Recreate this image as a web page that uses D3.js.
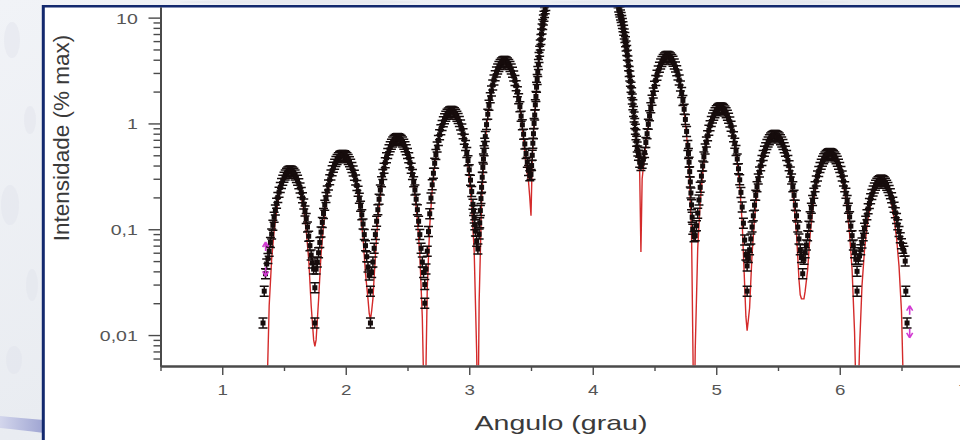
<!DOCTYPE html>
<html><head><meta charset="utf-8">
<script src="https://cdn.jsdelivr.net/npm/d3@7"></script>
<style>html,body{margin:0;padding:0;background:#fff;overflow:hidden}</style>
</head><body><svg id="c" width="960" height="440"></svg>
<script>
// ---------- data (angle in degrees, intensity in % of max) ----------
const xTickValues = [1, 2, 3, 4, 5, 6, 7];
const xTickLabels = ["1", "2", "3", "4", "5", "6", "7"];
const xMinorTicks = [0.5, 1.5, 2.5, 3.5, 4.5, 5.5, 6.5];
const yTickValues = [0.01, 0.1, 1, 10];
const yTickLabels = ["0,01", "0,1", "1", "10"];
const yMinorTicks = [0.006,0.007,0.008,0.009,0.02,0.03,0.04,0.05,0.06,0.07,0.08,0.09,0.2,0.3,0.4,0.5,0.6,0.7,0.8,0.9,2,3,4,5,6,7,8,9];
const xTitle = "Angulo (grau)";
const yTitle = "Intensidade (% max)";

const lobeA = [[1.36,0.047],[1.37,0.053],[1.38,0.062],[1.39,0.075],[1.40,0.090],[1.41,0.109],[1.42,0.130],[1.43,0.152],[1.44,0.176],[1.45,0.200],[1.46,0.224],[1.47,0.248],[1.48,0.270],[1.49,0.291],[1.50,0.310],[1.51,0.325],[1.52,0.338],[1.53,0.347],[1.54,0.353],[1.55,0.355],[1.56,0.353],[1.57,0.347],[1.58,0.338],[1.59,0.325],[1.60,0.309],[1.61,0.290],[1.62,0.269],[1.63,0.246],[1.64,0.222],[1.65,0.198],[1.66,0.173],[1.67,0.149],[1.68,0.126],[1.69,0.105],[1.70,0.086],[1.71,0.070],[1.72,0.057],[1.73,0.048],[1.74,0.042]];
const lobeB = [[1.76,0.042],[1.77,0.049],[1.78,0.060],[1.79,0.075],[1.80,0.094],[1.81,0.116],[1.82,0.141],[1.83,0.169],[1.84,0.199],[1.85,0.230],[1.86,0.262],[1.87,0.294],[1.88,0.326],[1.89,0.357],[1.90,0.385],[1.91,0.412],[1.92,0.436],[1.93,0.456],[1.94,0.473],[1.95,0.486],[1.96,0.495],[1.97,0.499],[1.98,0.499],[1.99,0.495],[2.00,0.486],[2.01,0.473],[2.02,0.455],[2.03,0.435],[2.04,0.411],[2.05,0.384],[2.06,0.355],[2.07,0.324],[2.08,0.292],[2.09,0.259],[2.10,0.228],[2.11,0.196],[2.12,0.165],[2.13,0.137],[2.14,0.112],[2.15,0.089],[2.16,0.070],[2.17,0.055],[2.18,0.044],[2.19,0.037]];
const lobeC = [[2.21,0.039],[2.22,0.049],[2.23,0.066],[2.24,0.089],[2.25,0.119],[2.26,0.153],[2.27,0.192],[2.28,0.235],[2.29,0.281],[2.30,0.329],[2.31,0.377],[2.32,0.426],[2.33,0.474],[2.34,0.520],[2.35,0.563],[2.36,0.602],[2.37,0.636],[2.38,0.666],[2.39,0.689],[2.40,0.705],[2.41,0.716],[2.42,0.720],[2.43,0.716],[2.44,0.705],[2.45,0.689],[2.46,0.666],[2.47,0.636],[2.48,0.602],[2.49,0.563],[2.50,0.520],[2.51,0.474],[2.52,0.426],[2.53,0.377],[2.54,0.329],[2.55,0.281],[2.56,0.235],[2.57,0.192],[2.58,0.153],[2.59,0.119],[2.60,0.089],[2.61,0.066],[2.62,0.049],[2.63,0.039]];
const lobeD = [[2.65,0.042],[2.66,0.062],[2.67,0.095],[2.68,0.140],[2.69,0.197],[2.70,0.263],[2.71,0.338],[2.72,0.420],[2.73,0.508],[2.74,0.598],[2.75,0.691],[2.76,0.782],[2.77,0.872],[2.78,0.956],[2.79,1.035],[2.80,1.106],[2.81,1.169],[2.82,1.219],[2.83,1.258],[2.84,1.284],[2.85,1.298],[2.86,1.298],[2.87,1.285],[2.88,1.259],[2.89,1.221],[2.90,1.172],[2.91,1.112],[2.92,1.042],[2.93,0.966],[2.94,0.884],[2.95,0.797],[2.96,0.708],[2.97,0.618],[2.98,0.530],[2.99,0.445],[3.00,0.364],[3.01,0.291],[3.02,0.227],[3.03,0.172],[3.035,0.150],[3.04,0.128],[3.045,0.110],[3.05,0.096],[3.06,0.077]];
const lobeE = [[3.08,0.090],[3.085,0.115],[3.09,0.150],[3.095,0.195],[3.10,0.249],[3.105,0.310],[3.11,0.384],[3.115,0.460],[3.12,0.552],[3.125,0.650],[3.13,0.751],[3.14,0.975],[3.15,1.221],[3.16,1.482],[3.17,1.753],[3.18,2.029],[3.19,2.304],[3.20,2.571],[3.21,2.825],[3.22,3.060],[3.23,3.272],[3.24,3.457],[3.25,3.609],[3.26,3.726],[3.27,3.806],[3.28,3.846],[3.29,3.845],[3.30,3.804],[3.31,3.723],[3.32,3.604],[3.33,3.449],[3.34,3.261],[3.35,3.045],[3.36,2.805],[3.37,2.547],[3.38,2.275],[3.39,1.995],[3.40,1.714],[3.41,1.438],[3.42,1.172],[3.43,0.970],[3.44,0.790],[3.45,0.640],[3.46,0.520],[3.47,0.430],[3.48,0.360],[3.49,0.320]];
const centralPeak = [[3.50,0.33],[3.505,0.40],[3.51,0.5],[3.515,0.65],[3.52,0.8],[3.525,1.0],[3.53,1.2],[3.535,1.5],[3.54,1.8],[3.545,2.2],[3.55,2.6],[3.555,3.1],[3.56,3.6],[3.565,4.2],[3.57,4.8],[3.575,5.5],[3.58,6.2],[3.585,7.0],[3.59,7.8],[3.595,8.6],[3.60,9.5],[3.605,10.3],[3.61,11.2],[3.615,12.1],[3.62,13],[3.63,15],[3.64,17.5],[3.65,20],[3.66,23],[3.67,26],[3.68,29.5],[3.70,37],[3.72,45],[3.74,53],[3.76,61],[3.78,68],[3.80,75],[3.82,81],[3.84,87],[3.86,92],[3.88,96],[3.90,98.5],[3.92,100],[3.94,99.5],[3.96,97.5],[3.98,94],[4.00,89],[4.02,83],[4.04,76],[4.06,68],[4.08,60],[4.10,51],[4.12,42],[4.14,34],[4.16,26.5],[4.17,23],[4.18,20],[4.19,17.5],[4.20,15],[4.205,13.8],[4.21,12.6],[4.215,11.9],[4.22,11.3],[4.225,10.6],[4.23,10],[4.235,9.4],[4.24,8.8],[4.245,8.2],[4.25,7.6],[4.255,7.0],[4.26,6.5],[4.265,5.9],[4.27,5.4],[4.275,4.9],[4.28,4.4],[4.285,3.9],[4.29,3.5],[4.295,3.1],[4.30,2.8],[4.305,2.5],[4.31,2.2],[4.315,1.95],[4.32,1.7],[4.325,1.5],[4.33,1.3],[4.335,1.15],[4.34,1.0],[4.345,0.88],[4.35,0.78],[4.355,0.68],[4.36,0.6],[4.365,0.55],[4.37,0.5],[4.38,0.43],[4.39,0.40]];
const lobeF = [[4.40,0.42],[4.41,0.46],[4.42,0.53],[4.43,0.66],[4.44,0.80],[4.45,0.98],[4.46,1.18],[4.47,1.41],[4.48,1.66],[4.49,1.94],[4.50,2.24],[4.51,2.55],[4.52,2.85],[4.53,3.13],[4.54,3.40],[4.55,3.64],[4.56,3.85],[4.57,4.02],[4.58,4.16],[4.59,4.25],[4.60,4.29],[4.61,4.29],[4.62,4.24],[4.63,4.16],[4.64,4.03],[4.65,3.86],[4.66,3.65],[4.67,3.41],[4.68,3.15],[4.69,2.87],[4.70,2.57],[4.71,2.26],[4.72,1.96],[4.73,1.65],[4.74,1.36],[4.75,1.09],[4.76,0.84],[4.77,0.62],[4.775,0.52],[4.78,0.43],[4.785,0.35],[4.79,0.28],[4.795,0.22],[4.80,0.17],[4.805,0.13],[4.81,0.10]];
const lobeG = [[4.83,0.087],[4.84,0.108],[4.85,0.142],[4.86,0.189],[4.87,0.249],[4.88,0.318],[4.89,0.396],[4.90,0.482],[4.91,0.573],[4.92,0.668],[4.93,0.764],[4.94,0.860],[4.95,0.953],[4.96,1.042],[4.97,1.124],[4.98,1.198],[4.99,1.263],[5.00,1.316],[5.01,1.357],[5.02,1.384],[5.03,1.398],[5.04,1.398],[5.05,1.383],[5.06,1.355],[5.07,1.314],[5.08,1.259],[5.09,1.193],[5.10,1.117],[5.11,1.033],[5.12,0.943],[5.13,0.847],[5.14,0.749],[5.15,0.651],[5.16,0.554],[5.17,0.461],[5.18,0.373],[5.19,0.293],[5.20,0.223],[5.21,0.162],[5.22,0.114],[5.23,0.079],[5.24,0.057]];
const lobeH = [[5.26,0.054],[5.27,0.064],[5.28,0.081],[5.29,0.105],[5.30,0.134],[5.31,0.169],[5.32,0.209],[5.33,0.252],[5.34,0.299],[5.35,0.347],[5.36,0.398],[5.37,0.447],[5.38,0.497],[5.39,0.545],[5.40,0.590],[5.41,0.632],[5.42,0.669],[5.43,0.701],[5.44,0.728],[5.45,0.748],[5.46,0.762],[5.47,0.769],[5.48,0.769],[5.49,0.762],[5.50,0.748],[5.51,0.728],[5.52,0.701],[5.53,0.669],[5.54,0.632],[5.55,0.590],[5.56,0.545],[5.57,0.497],[5.58,0.447],[5.59,0.398],[5.60,0.347],[5.61,0.299],[5.62,0.252],[5.63,0.209],[5.64,0.169],[5.65,0.134],[5.66,0.105],[5.67,0.081],[5.68,0.064],[5.69,0.054]];
const lobeI = [[5.71,0.052],[5.72,0.060],[5.73,0.071],[5.74,0.087],[5.75,0.107],[5.76,0.131],[5.77,0.158],[5.78,0.187],[5.79,0.219],[5.80,0.252],[5.81,0.285],[5.82,0.318],[5.83,0.351],[5.84,0.383],[5.85,0.412],[5.86,0.439],[5.87,0.463],[5.88,0.483],[5.89,0.499],[5.90,0.510],[5.91,0.517],[5.92,0.520],[5.93,0.517],[5.94,0.510],[5.95,0.499],[5.96,0.483],[5.97,0.463],[5.98,0.439],[5.99,0.412],[6.00,0.383],[6.01,0.351],[6.02,0.318],[6.03,0.285],[6.04,0.252],[6.05,0.219],[6.06,0.187],[6.07,0.158],[6.08,0.131],[6.09,0.107],[6.10,0.087],[6.11,0.071],[6.12,0.060],[6.13,0.052]];
const lobeJ = [[6.15,0.052],[6.16,0.056],[6.17,0.064],[6.18,0.074],[6.19,0.087],[6.20,0.102],[6.21,0.119],[6.22,0.137],[6.23,0.156],[6.24,0.175],[6.25,0.194],[6.26,0.213],[6.27,0.230],[6.28,0.246],[6.29,0.260],[6.30,0.272],[6.31,0.281],[6.32,0.287],[6.33,0.290],[6.34,0.290],[6.35,0.287],[6.36,0.281],[6.37,0.272],[6.38,0.261],[6.39,0.248],[6.40,0.232],[6.41,0.216],[6.42,0.198],[6.43,0.180],[6.44,0.161],[6.45,0.143],[6.46,0.126],[6.47,0.110],[6.48,0.095],[6.49,0.083],[6.50,0.073],[6.51,0.066],[6.52,0.062]];
const minimaPoints = [[1.33,0.013],[1.34,0.026],[1.35,0.038],[1.75,0.028],[1.75,0.013],[2.20,0.026],[2.20,0.013],[2.64,0.030],[2.64,0.020],[3.07,0.065],[4.82,0.085],[5.25,0.045],[5.25,0.026],[5.70,0.038],[6.14,0.040],[6.14,0.026],[6.53,0.050],[6.535,0.026],[6.545,0.013]];
const flagAngle = [1.335, 1.335, 6.55, 6.55];
const flagValue = [0.068, 0.040, 0.017, 0.0105];
const flagDir = ["up", "down", "up", "down"];

const fitCurve = [[1.35,0.001],[1.36,0.0022],[1.38,0.019],[1.40,0.052],[1.42,0.097],[1.44,0.150],[1.46,0.205],[1.48,0.258],[1.50,0.303],[1.52,0.336],[1.54,0.353],[1.56,0.353],[1.58,0.336],[1.60,0.303],[1.62,0.258],[1.64,0.205],[1.66,0.150],[1.68,0.097],[1.70,0.052],[1.72,0.019],[1.74,0.009],[1.75,0.0078],[1.76,0.009],[1.78,0.0216],[1.80,0.0585],[1.82,0.110],[1.84,0.173],[1.86,0.241],[1.88,0.311],[1.90,0.375],[1.92,0.430],[1.94,0.471],[1.96,0.495],[1.98,0.499],[2.00,0.485],[2.02,0.452],[2.04,0.404],[2.06,0.344],[2.08,0.276],[2.10,0.207],[2.12,0.140],[2.14,0.0827],[2.16,0.038],[2.18,0.022],[2.19,0.016],[2.20,0.014],[2.21,0.017],[2.22,0.022],[2.24,0.0572],[2.26,0.124],[2.28,0.210],[2.30,0.309],[2.32,0.411],[2.34,0.510],[2.36,0.596],[2.38,0.663],[2.40,0.705],[2.42,0.72],[2.44,0.705],[2.46,0.663],[2.48,0.596],[2.50,0.510],[2.52,0.411],[2.54,0.309],[2.56,0.210],[2.58,0.124],[2.60,0.0572],[2.62,0.0146],[2.64,0.001],[2.66,0.0276],[2.68,0.108],[2.70,0.234],[2.72,0.396],[2.74,0.579],[2.76,0.768],[2.78,0.947],[2.80,1.101],[2.82,1.217],[2.84,1.284],[2.86,1.298],[2.88,1.257],[2.90,1.165],[2.92,1.028],[2.94,0.860],[2.96,0.674],[2.98,0.486],[3.00,0.311],[3.02,0.166],[3.04,0.0615],[3.06,0.0069],[3.07,0.001],[3.08,0.0205],[3.10,0.182],[3.12,0.491],[3.14,0.922],[3.16,1.438],[3.18,1.995],[3.20,2.547],[3.22,3.045],[3.24,3.449],[3.26,3.723],[3.28,3.845],[3.30,3.804],[3.32,3.604],[3.34,3.261],[3.36,2.805],[3.38,2.275],[3.40,1.714],[3.42,1.172],[3.44,0.694],[3.46,0.40],[3.48,0.28],[3.49,0.2],[3.50,0.134],[3.51,0.45],[3.52,0.8],[3.54,1.8],[3.56,3.6],[3.58,6.2],[3.60,9.5],[3.62,13],[3.64,17.5],[3.66,23],[3.68,29.5],[3.70,37],[3.74,53],[3.78,68],[3.82,81],[3.86,92],[3.90,98.5],[3.92,100],[3.94,99.5],[3.98,94],[4.02,83],[4.06,68],[4.10,51],[4.14,34],[4.18,20],[4.20,15],[4.22,11.3],[4.24,8.8],[4.26,6.5],[4.28,4.4],[4.30,2.8],[4.32,1.7],[4.34,1.0],[4.36,0.6],[4.38,0.35],[4.39,0.061],[4.40,0.3],[4.42,0.5],[4.44,0.78],[4.46,1.15],[4.48,1.62],[4.50,2.23],[4.52,2.845],[4.54,3.401],[4.56,3.852],[4.58,4.159],[4.60,4.294],[4.62,4.248],[4.64,4.025],[4.66,3.643],[4.68,3.133],[4.70,2.541],[4.72,1.914],[4.74,1.309],[4.76,0.775],[4.78,0.357],[4.80,0.0912],[4.82,0.001],[4.83,0.0075],[4.85,0.0662],[4.87,0.179],[4.89,0.335],[4.91,0.523],[4.93,0.725],[4.95,0.926],[4.97,1.107],[4.99,1.254],[5.01,1.354],[5.03,1.398],[5.05,1.383],[5.07,1.311],[5.09,1.186],[5.11,1.020],[5.13,0.827],[5.15,0.623],[5.17,0.426],[5.19,0.252],[5.21,0.116],[5.23,0.0297],[5.24,0.015],[5.25,0.011],[5.26,0.014],[5.27,0.018],[5.29,0.0585],[5.31,0.127],[5.33,0.216],[5.35,0.318],[5.37,0.425],[5.39,0.529],[5.41,0.622],[5.43,0.696],[5.45,0.747],[5.47,0.769],[5.49,0.762],[5.51,0.725],[5.53,0.662],[5.55,0.578],[5.57,0.478],[5.59,0.372],[5.61,0.266],[5.63,0.170],[5.65,0.0901],[5.67,0.0333],[5.68,0.024],[5.69,0.022],[5.70,0.022],[5.71,0.022],[5.72,0.026],[5.74,0.0413],[5.76,0.0898],[5.78,0.152],[5.80,0.223],[5.82,0.297],[5.84,0.368],[5.86,0.430],[5.88,0.479],[5.90,0.509],[5.92,0.52],[5.94,0.509],[5.96,0.479],[5.98,0.430],[6.00,0.368],[6.02,0.297],[6.04,0.223],[6.06,0.152],[6.08,0.0898],[6.10,0.0413],[6.12,0.0106],[6.14,0.001],[6.16,0.00745],[6.18,0.0291],[6.20,0.0626],[6.22,0.1046],[6.24,0.1508],[6.26,0.1964],[6.28,0.2367],[6.30,0.2676],[6.32,0.2858],[6.34,0.2895],[6.36,0.2784],[6.38,0.2535],[6.40,0.2175],[6.42,0.174],[6.44,0.1275],[6.46,0.0829],[6.48,0.0446],[6.50,0.0166],[6.52,0.00188],[6.53,0.001]];

// ---------- drawing ----------
const svg = d3.select("#c");
const FONT = "'Liberation Sans', Arial, Helvetica, sans-serif";
const defs = svg.append("defs");

const g1 = defs.append("linearGradient").attr("id", "marble").attr("x1", 0).attr("y1", 0).attr("x2", 1).attr("y2", 1);
g1.append("stop").attr("offset", "0%").attr("stop-color", "#f1f3f7");
g1.append("stop").attr("offset", "50%").attr("stop-color", "#e9ecf1");
g1.append("stop").attr("offset", "100%").attr("stop-color", "#f0f2f6");
const g2 = defs.append("linearGradient").attr("id", "swoosh").attr("x1", 0).attr("y1", 0).attr("x2", 1).attr("y2", 0);
g2.append("stop").attr("offset", "0%").attr("stop-color", "#d3d6ec");
g2.append("stop").attr("offset", "100%").attr("stop-color", "#9ea4d2");

// page background (template of the slide)
svg.append("rect").attr("x", 0).attr("y", 0).attr("width", 960).attr("height", 440).attr("fill", "url(#marble)");
const blobs = [[12,40,8,18],[30,120,6,14],[10,205,9,20],[32,285,6,16],[14,360,8,14],[300,2,120,2],[700,2,150,2]];
svg.selectAll("ellipse.blob").data(blobs).join("ellipse").attr("class", "blob")
  .attr("cx", d => d[0]).attr("cy", d => d[1]).attr("rx", d => d[2]).attr("ry", d => d[3])
  .attr("fill", "#dfe3ea").attr("opacity", 0.45);
svg.append("path").attr("d", "M0,416 Q20,418 44,420 L44,433 Q20,430 0,428 Z").attr("fill", "url(#swoosh)");

// white chart panel with navy frame
svg.append("rect").attr("x", 44).attr("y", 7).attr("width", 916).attr("height", 433).attr("fill", "#ffffff");
svg.append("line").attr("x1", 42).attr("x2", 960).attr("y1", 6.2).attr("y2", 6.2).attr("stroke", "#13296e").attr("stroke-width", 2.6);
svg.append("line").attr("x1", 43.3).attr("x2", 43.3).attr("y1", 5).attr("y2", 440).attr("stroke", "#13296e").attr("stroke-width", 3);

// scales
const x = d3.scaleLinear().domain([0.5, 7]).range([160.5, 963.25]);
const y = d3.scaleLog().domain([0.0051, 12.6]).range([366, 7]);

defs.append("clipPath").attr("id", "plotclip").append("rect")
  .attr("x", 161).attr("y", 7.5).attr("width", 800).attr("height", 358);

const plot = svg.append("g").attr("clip-path", "url(#plotclip)");

// fit curve (drawn beneath the measured points)
const line = d3.line().x(d => x(d[0])).y(d => y(d[1]));
plot.append("path").datum(fitCurve).attr("d", line)
  .attr("fill", "none").attr("stroke", "#d42a2a").attr("stroke-width", 1.4);

// measured points with error-bar glyphs
const measured = [].concat(lobeA, lobeB, lobeC, lobeD, lobeE, centralPeak, lobeF, lobeG, lobeH, lobeI, lobeJ, minimaPoints);
const pts = plot.append("g").selectAll("g").data(measured).join("g")
  .attr("transform", d => `translate(${x(d[0])},${y(d[1])})`);
pts.append("path").attr("d", "M-4.5,-5H4.5M0,-5V5M-4.5,5H4.5")
  .attr("stroke", "#160c0c").attr("stroke-width", 1.5).attr("fill", "none");
pts.append("rect").attr("x", -2.5).attr("y", -2.5).attr("width", 5).attr("height", 5).attr("fill", "#160c0c");

// magenta flags
const flagShapes = { up: "M0,-5L-3,0M0,-5L3,0M0,-5V4", down: "M0,5L-3,0M0,5L3,0M0,5V-4" };
plot.append("g").selectAll("path").data(flagAngle.map((a, i) => [a, flagValue[i], flagDir[i]])).join("path")
  .attr("transform", d => `translate(${x(d[0]) + 2},${y(d[1])})`)
  .attr("d", d => flagShapes[d[2]])
  .attr("stroke", "#d23ad2").attr("stroke-width", 1.6).attr("fill", "none");

// axes
const axisColor = "#4a4a4a";
const yMinorAxis = svg.append("g").attr("transform", "translate(160.5,0)")
  .call(d3.axisLeft(y).tickValues(yMinorTicks).tickSize(7).tickSizeOuter(0).tickFormat(""));
const yAxis = svg.append("g").attr("transform", "translate(160.5,0)")
  .call(d3.axisLeft(y).tickValues(yTickValues).tickSize(12).tickSizeOuter(0).tickFormat((d, i) => yTickLabels[i]));
const xMinorAxis = svg.append("g").attr("transform", "translate(0,366)")
  .call(d3.axisBottom(x).tickValues(xMinorTicks).tickSize(5).tickSizeOuter(0).tickFormat(""));
const xAxis = svg.append("g").attr("transform", "translate(0,366)")
  .call(d3.axisBottom(x).tickValues(xTickValues).tickSize(9).tickSizeOuter(0).tickFormat((d, i) => xTickLabels[i]));

[yMinorAxis, yAxis, xMinorAxis, xAxis].forEach(a => {
  a.selectAll(".domain").attr("stroke", axisColor).attr("stroke-width", 2);
  a.selectAll(".tick line").attr("stroke", axisColor).attr("stroke-width", 1.4);
});
yAxis.selectAll(".tick text")
  .attr("font-family", FONT).attr("font-size", 15).attr("fill", "#555")
  .attr("x", -17.5).attr("dy", "0.36em").attr("transform", "scale(1.3,1)");
xAxis.selectAll(".tick text")
  .attr("font-family", FONT).attr("font-size", 15).attr("fill", "#555")
  .attr("y", 29).attr("dy", 0).attr("transform", "scale(1.25,1)");

// titles
svg.append("text").attr("x", 561).attr("y", 430).attr("text-anchor", "middle")
  .attr("font-family", FONT).attr("font-size", 21).attr("fill", "#3a3a3a")
  .attr("textLength", 173).attr("lengthAdjust", "spacingAndGlyphs").text(xTitle);
svg.append("text").attr("transform", "translate(68.5,138) rotate(-90)").attr("text-anchor", "middle")
  .attr("font-family", FONT).attr("font-size", 22.5).attr("fill", "#3a3a3a").text(yTitle);
</script>
</body></html>
